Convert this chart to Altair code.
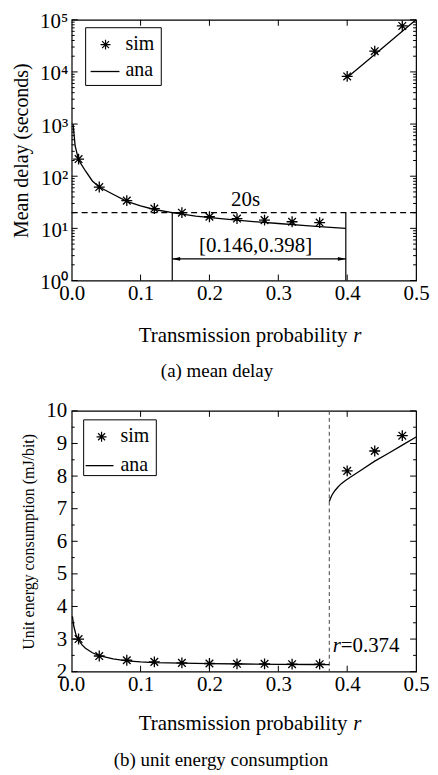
import altair as alt
import pandas as pd

FONT = "Liberation Serif"
STAR = "M0,-1L0,1M-1,0L1,0M-0.7,-0.7L0.7,0.7M-0.7,0.7L0.7,-0.7"
ARROW_L = "M-1,0L1,-0.45L1,0.45Z"
ARROW_R = "M1,0L-1,-0.45L-1,0.45Z"

# ---------------- data: (a) mean delay ----------------
sim_r_low = [0.01, 0.04, 0.08, 0.12, 0.16, 0.20, 0.24, 0.28, 0.32, 0.36]
sim_delay_low = [213, 62, 34, 24, 20, 16.7, 15.4, 14.4, 13.4, 12.9]
sim_r_high = [0.40, 0.44, 0.48]
sim_delay_high = [8200, 25000, 76000]
ana_r_low = [0.002, 0.005, 0.01, 0.02, 0.03, 0.04, 0.06, 0.08, 0.10, 0.12,
             0.146, 0.18, 0.22, 0.26, 0.30, 0.34, 0.37, 0.398]
ana_delay_low = [1000, 380, 205, 126, 81, 62, 45, 33, 27, 23,
                 20, 17.2, 15.2, 13.6, 12.4, 11.3, 10.6, 10.0]
ana_r_high = [0.40, 0.44, 0.48, 0.50]
ana_delay_high = [7800, 21500, 60000, 100000]
delay_limit = 20
r_interval = [0.146, 0.398]

# ---------------- data: (b) unit energy consumption ----------------
sim_energy_low = [3.0, 2.48, 2.35, 2.30, 2.27, 2.25, 2.24, 2.24, 2.23, 2.23]
sim_energy_high = [8.16, 8.77, 9.24]
ana_r_e_low = [0.001, 0.003, 0.006, 0.01, 0.015, 0.02, 0.03, 0.04, 0.06, 0.08,
               0.10, 0.12, 0.16, 0.20, 0.25, 0.30, 0.35, 0.374]
ana_energy_low = [3.7, 3.4, 3.15, 2.97, 2.82, 2.72, 2.58, 2.49, 2.39, 2.33,
                  2.30, 2.28, 2.26, 2.245, 2.235, 2.225, 2.22, 2.215]
ana_r_e_high = [0.374, 0.376, 0.378, 0.382, 0.386, 0.391, 0.397, 0.405, 0.42,
                0.44, 0.46, 0.48, 0.50]
ana_energy_high = [7.22, 7.33, 7.42, 7.55, 7.65, 7.76, 7.86, 7.97, 8.18,
                   8.46, 8.70, 8.95, 9.20]
r_threshold = 0.374

x_ticks = [0.0, 0.1, 0.2, 0.3, 0.4, 0.5]
y1_major = [1, 10, 100, 1000, 10000, 100000]
y1_minor = [m * d for d in [1, 10, 100, 1000, 10000] for m in range(2, 10)]
y2_major = [2, 3, 4, 5, 6, 7, 8, 9, 10]
y2_minor = [2.5, 3.5, 4.5, 5.5, 6.5, 7.5, 8.5, 9.5]

one = pd.DataFrame({"k": [0]})
TXT = 21


def make_panel(W, H, yscale, yaxis, sim_low, sim_high, ana_low_r,
               ana_low_v, ana_high_r, ana_high_v, ymajor, yminor, legend_pos,
               caption, caption_x, xtitle_dy, caption_dy):
    xs = alt.Scale(domain=[0, 0.5], nice=False, zero=False)
    xaxis = alt.Axis(values=x_ticks, format=".1f", ticks=False, domain=False,
                     grid=False, labelPadding=2, title=None, labelFontSize=TXT,
                     labelFont=FONT, labelColor="black", labelFlush=False)

    def X(f):
        return alt.X(f, type="quantitative", scale=xs, axis=xaxis)

    def Y(f):
        return alt.Y(f, type="quantitative", scale=yscale, axis=yaxis)

    ana = pd.DataFrame({
        "r": ana_low_r + ana_high_r,
        "v": ana_low_v + ana_high_v,
        "seg": ["a"] * len(ana_low_r) + ["b"] * len(ana_high_r),
    })
    sim = pd.DataFrame({"r": sim_r_low + sim_r_high, "v": sim_low + sim_high})

    lines = alt.Chart(ana).mark_line(color="black", strokeWidth=1.3).encode(
        x=X("r"), y=Y("v"), detail="seg:N")
    pts = alt.Chart(sim).mark_point(shape=STAR, size=120, stroke="black",
                                    strokeWidth=1.3, filled=False, opacity=1).encode(
        x=X("r"), y=Y("v"))

    # inward ticks
    xt = pd.DataFrame({"t": x_ticks[1:-1]})
    xtick_b = alt.Chart(xt).mark_rule(color="black", strokeWidth=1).encode(
        x=X("t"), y=alt.value(H), y2=alt.value(H - 6))
    xtick_t = alt.Chart(xt).mark_rule(color="black", strokeWidth=1).encode(
        x=X("t"), y=alt.value(0), y2=alt.value(6))
    ym = pd.DataFrame({"t": ymajor})
    yn = pd.DataFrame({"t": yminor})
    ticks = []
    for d, L in [(ym, 6), (yn, 3)]:
        ticks.append(alt.Chart(d).mark_rule(color="black", strokeWidth=1).encode(
            y=Y("t"), x=alt.value(0), x2=alt.value(L)))
        ticks.append(alt.Chart(d).mark_rule(color="black", strokeWidth=1).encode(
            y=Y("t"), x=alt.value(W - L), x2=alt.value(W)))

    # legend box
    lx0, lx1, ly0, ly1, row1, row2, sx, lnx0, lnx1, tx = legend_pos
    box = alt.Chart(one).mark_rect(fill="white", stroke="black", strokeWidth=1).encode(
        x=alt.value(lx0), x2=alt.value(lx1), y=alt.value(ly0), y2=alt.value(ly1))
    lstar = alt.Chart(one).mark_point(shape=STAR, size=100, stroke="black",
                                      strokeWidth=1.2, filled=False, opacity=1).encode(
        x=alt.value(sx), y=alt.value(row1))
    lline = alt.Chart(one).mark_rule(color="black", strokeWidth=1.3).encode(
        x=alt.value(lnx0), x2=alt.value(lnx1), y=alt.value(row2))
    ltxt1 = alt.Chart(one).mark_text(text="sim", align="left", baseline="middle",
                                     font=FONT, fontSize=20, color="black").encode(
        x=alt.value(tx), y=alt.value(row1 - 1))
    ltxt2 = alt.Chart(one).mark_text(text="ana", align="left", baseline="middle",
                                     font=FONT, fontSize=20, color="black").encode(
        x=alt.value(tx), y=alt.value(row2 - 1))

    # x title with italic r, and caption
    xt1 = alt.Chart(one).mark_text(text="Transmission probability", align="right",
                                   baseline="middle", font=FONT, fontSize=TXT,
                                   color="black").encode(
        x=alt.value(W / 2 + 104), y=alt.value(H + xtitle_dy))
    xt2 = alt.Chart(one).mark_text(text="r", align="left", baseline="middle",
                                   font=FONT, fontSize=TXT, fontStyle="italic",
                                   color="black").encode(
        x=alt.value(W / 2 + 110), y=alt.value(H + xtitle_dy))
    cap = alt.Chart(one).mark_text(text=caption, align="center", baseline="middle",
                                   font=FONT, fontSize=19, color="black").encode(
        x=alt.value(caption_x), y=alt.value(H + caption_dy))

    layers = [lines, pts, xtick_b, xtick_t] + ticks + [box, lstar, lline, ltxt1,
                                                       ltxt2, xt1, xt2, cap]
    return layers, X, Y


W = 346
H = 262

# ---- panel (a)
ys1 = alt.Scale(type="log", domain=[1, 100000], nice=False)
yaxis1 = alt.Axis(values=y1_major,
                  labelExpr="'10' + ['\u2070','\u00b9','\u00b2','\u00b3','\u2074','\u2075'][round(log(datum.value)/LN10)]",
                  ticks=False, domain=False, grid=False, labelPadding=4,
                  labelOffset=2,
                  labelFontSize=TXT, labelFont=FONT, labelColor="black",
                  labelFlush=False, title="Mean delay (seconds)", titleFont=FONT,
                  titleFontSize=20, titleFontWeight="normal", titleColor="black",
                  titlePadding=8)
layA, XA, YA = make_panel(
    W, H, ys1, yaxis1, sim_delay_low, sim_delay_high, ana_r_low,
    ana_delay_low, ana_r_high, ana_delay_high, y1_major, y1_minor,
    (14, 90, 8, 66, 25, 52, 34, 19, 48, 54),
    "(a)  mean delay", 146, 56, 91)

hl = alt.Chart(pd.DataFrame({"d": [delay_limit]})).mark_rule(
    color="black", strokeWidth=1.2, strokeDash=[6, 4]).encode(y=YA("d"))
vl = alt.Chart(pd.DataFrame({"r": r_interval, "lo": [1, 1], "hi": [delay_limit] * 2})).mark_rule(
    color="black", strokeWidth=1.2).encode(x=XA("r"), y=YA("lo"), y2="hi")
arr = alt.Chart(pd.DataFrame({"a": [r_interval[0]], "b": [r_interval[1]], "y": [2.6]})).mark_rule(
    color="black", strokeWidth=1.2).encode(x=XA("a"), x2="b", y=YA("y"))
ahl = alt.Chart(pd.DataFrame({"a": [r_interval[0]], "y": [2.6]})).mark_point(
    shape=ARROW_L, size=64, filled=True, color="black", opacity=1, xOffset=4).encode(
    x=XA("a"), y=YA("y"))
ahr = alt.Chart(pd.DataFrame({"a": [r_interval[1]], "y": [2.6]})).mark_point(
    shape=ARROW_R, size=64, filled=True, color="black", opacity=1, xOffset=-4).encode(
    x=XA("a"), y=YA("y"))
tA = alt.Chart(pd.DataFrame({"x": [0.2524, 0.267], "y": [35, 4.5],
                             "t": ["20s", "[0.146,0.398]"]})).mark_text(
    font=FONT, fontSize=TXT, color="black", baseline="middle").encode(
    x=XA("x"), y=YA("y"), text="t:N")

chartA = alt.layer(hl, vl, arr, ahl, ahr, tA, *layA).properties(width=W, height=H)

# ---- panel (b)
ys2 = alt.Scale(domain=[2, 10], nice=False, zero=False)
yaxis2 = alt.Axis(values=y2_major, format="d", ticks=False, domain=False,
                  grid=False, labelPadding=5, labelFontSize=TXT, labelFont=FONT,
                  labelColor="black", labelFlush=False,
                  title="Unit energy consumption (mJ/bit)", titleFont=FONT,
                  titleFontSize=16, titleFontWeight="normal", titleColor="black",
                  titlePadding=9)
layB, XB, YB = make_panel(
    W, H, ys2, yaxis2, sim_energy_low, sim_energy_high, ana_r_e_low,
    ana_energy_low, ana_r_e_high, ana_energy_high, y2_major, y2_minor,
    (12, 85, 9, 65, 26, 55, 30, 14, 42, 49),
    "(b)  unit energy consumption", 150, 53, 89)

vthr = alt.Chart(pd.DataFrame({"r": [r_threshold]})).mark_rule(
    color="#444", strokeWidth=1, strokeDash=[4, 3]).encode(x=XB("r"))
tB1 = alt.Chart(pd.DataFrame({"x": [0.379], "y": [2.78]})).mark_text(
    text="r", font=FONT, fontSize=TXT, fontStyle="italic", color="black",
    align="left", baseline="middle").encode(x=XB("x"), y=YB("y"))
tB2 = alt.Chart(pd.DataFrame({"x": [0.379], "y": [2.78]})).mark_text(
    text="=0.374", font=FONT, fontSize=TXT, color="black", dx=8,
    align="left", baseline="middle").encode(x=XB("x"), y=YB("y"))

chartB = alt.layer(vthr, tB1, tB2, *layB).properties(width=W, height=H)

chart = alt.vconcat(chartA, chartB, spacing=17).properties(
    padding={"left": 3, "top": 0, "right": 0, "bottom": -1}
).configure_view(stroke="black", strokeWidth=1.2).resolve_scale(
    x="independent", y="independent")

chart.save("out.html", embed_options={"renderer": "svg", "actions": False})
